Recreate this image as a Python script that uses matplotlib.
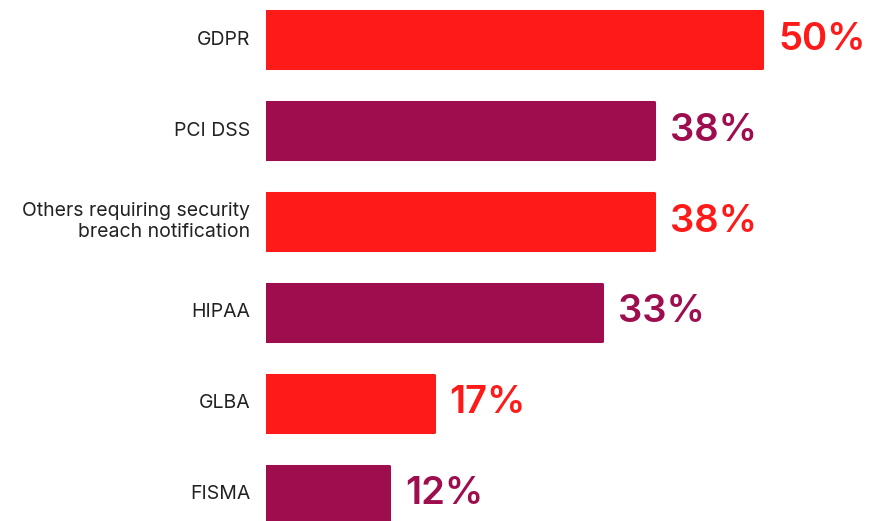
import matplotlib.pyplot as plt

categories = ['GDPR', 'PCI DSS', 'Others requiring security\nbreach notification',
              'HIPAA', 'GLBA', 'FISMA']
values = [50, 39.1, 39.1, 33.9, 16.9, 12.4]
value_labels = ['50%', '38%', '38%', '33%', '17%', '12%']
colors = ['#FF1A1A', '#9E0E4F', '#FF1A1A', '#9E0E4F', '#FF1A1A', '#9E0E4F']

plt.rcParams['font.family'] = ['Inter', 'DejaVu Sans']

W, H = 873, 521
fig = plt.figure(figsize=(W / 100, H / 100), dpi=100)
left_px = 266
ax = fig.add_axes([left_px / W, 0, 1 - left_px / W, 1])

px_per_pct = 9.92
row_px = 90.8
ax.set_xlim(0, (W - left_px) / px_per_pct)
ax.set_ylim(len(categories) - 1 + 27 / row_px, -40 / row_px)

ys = range(len(categories))
bars = ax.barh(ys, values, height=57 / row_px, color=colors,
               edgecolor=colors, linewidth=2.2)
for b in bars:
    b.set_joinstyle('round')

for y, v, lab, c in zip(ys, values, value_labels, colors):
    ax.text(v + 16 / px_per_pct, y, lab, color=c, fontsize=27.5,
            fontweight='semibold', va='center', ha='left')

for y, cat in zip(ys, categories):
    ax.text(-16 / px_per_pct, y, cat, color='#222222', fontsize=14,
            va='center', ha='right', linespacing=1.2, clip_on=False)

ax.axis('off')
fig.savefig('out.png', dpi=100)
